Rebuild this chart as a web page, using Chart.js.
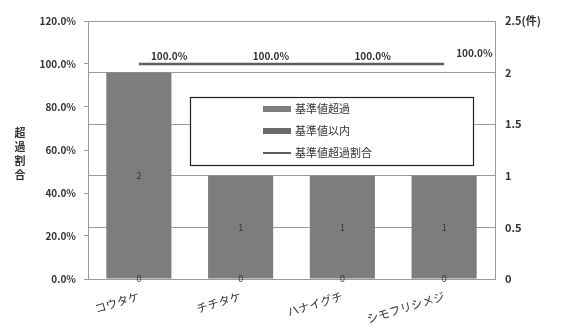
<!DOCTYPE html>
<html>
<head>
<meta charset="utf-8">
<script src="https://cdn.jsdelivr.net/npm/chart.js@4"></script>
<style>
  html, body { margin: 0; padding: 0; background: #fff; }
  #wrap { width: 567px; height: 326px; }
</style>
</head>
<body>
<div id="wrap"><canvas id="grafico" width="567" height="326"></canvas></div>
<script>
// categorias e valores
const categorias = ['コウタケ', 'チチタケ', 'ハナイグチ', 'シモフリシメジ'];
const excedeu = [2, 1, 1, 1];          // 基準値超過 (件)
const dentro = [0, 0, 0, 0];           // 基準値以内 (件)
const taxaExcesso = [1, 1, 1, 1];      // 基準値超過割合
const ticksEsq = [0, 0.2, 0.4, 0.6, 0.8, 1.0, 1.2];
const ticksDir = [0, 0.5, 1, 1.5, 2, 2.5];
const tituloEsq = '超過割合';

const fonte = '"Noto Sans CJK JP", "DejaVu Sans", sans-serif';
const corTexto = '#333333';

// rótulos de valor nas barras e na linha
const rotulos = {
  id: 'rotulos',
  afterDatasetsDraw(chart) {
    const ctx = chart.ctx;
    ctx.save();
    ctx.fillStyle = corTexto;
    ctx.textAlign = 'center';
    ctx.textBaseline = 'middle';
    ctx.font = '9px ' + fonte;
    [0, 1].forEach(i => {
      chart.getDatasetMeta(i).data.forEach((bar, j) => {
        const v = chart.data.datasets[i].data[j];
        const y = (bar.y + bar.base) / 2;
        ctx.fillText(String(v), bar.x, y);
      });
    });
    ctx.font = 'bold 10px ' + fonte;
    ctx.textAlign = 'left';
    ctx.textBaseline = 'bottom';
    chart.getDatasetMeta(2).data.forEach((pt, j) => {
      const v = chart.data.datasets[2].data[j];
      const dy = j === 3 ? 6 : 3;
      ctx.fillText((v * 100).toFixed(1) + '%', pt.x + 12, pt.y - dy);
    });
    ctx.restore();
  }
};

// legenda dentro da área do gráfico, com moldura
const legendaCaixa = {
  id: 'legendaCaixa',
  afterDraw(chart) {
    const ctx = chart.ctx;
    const x0 = 190, y0 = 97, w = 283, h = 68;
    ctx.save();
    ctx.fillStyle = '#ffffff';
    ctx.fillRect(x0, y0, w, h);
    ctx.strokeStyle = '#222222';
    ctx.lineWidth = 1.2;
    ctx.strokeRect(x0 + 0.5, y0 + 0.5, w, h);
    ctx.font = '11px ' + fonte;
    ctx.textBaseline = 'middle';
    ctx.textAlign = 'left';
    const linhas = [109, 131, 153];
    const ordem = [1, 0, 2]; // 超過, 以内, 割合
    ordem.forEach((i, k) => {
      const ds = chart.data.datasets[i];
      const y = linhas[k];
      if (ds.type === 'bar') {
        ctx.fillStyle = ds.backgroundColor;
        ctx.fillRect(263, y - 3, 28, 6);
      } else {
        ctx.fillStyle = ds.borderColor;
        ctx.fillRect(263, y - 1, 28, 2);
      }
      ctx.fillStyle = corTexto;
      ctx.fillText(ds.label, 295, y);
    });
    // título do eixo esquerdo, em coluna
    ctx.font = 'bold 11px ' + fonte;
    ctx.textAlign = 'center';
    [...tituloEsq].forEach((c, k) => {
      ctx.fillText(c, 20, 133 + k * 14);
    });
    ctx.restore();
  }
};

new Chart(document.getElementById('grafico').getContext('2d'), {
  data: {
    labels: categorias,
    datasets: [
      {
        type: 'bar', label: '基準値以内', data: dentro,
        backgroundColor: '#6a6a6a', borderColor: '#6a6a6a',
        yAxisID: 'y', stack: 'a', barPercentage: 0.64, categoryPercentage: 1, order: 2
      },
      {
        type: 'bar', label: '基準値超過', data: excedeu,
        backgroundColor: '#7d7d7d', borderColor: '#7d7d7d',
        yAxisID: 'y', stack: 'a', barPercentage: 0.64, categoryPercentage: 1, order: 2
      },
      {
        type: 'line', label: '基準値超過割合', data: taxaExcesso,
        borderColor: '#5e5e5e', backgroundColor: '#5e5e5e', borderWidth: 2.5,
        pointRadius: 0, yAxisID: 'y1', order: 1
      }
    ]
  },
  options: {
    responsive: false,
    animation: false,
    layout: { padding: { top: 21, left: 0, right: 0, bottom: 0 } },
    plugins: {
      legend: { display: false },
      tooltip: { enabled: false }
    },
    scales: {
      x: {
        stacked: true,
        offset: true,
        grid: { display: false },
        border: { color: '#999999' },
        ticks: {
          color: corTexto, font: { family: fonte, size: 11.5 },
          minRotation: 17, maxRotation: 17, padding: 2
        },
        afterFit: s => { s.height = 326 - 279; }
      },
      y1: {
        position: 'left',
        min: 0, max: 1.2,
        afterBuildTicks: s => { s.ticks = ticksEsq.map(v => ({ value: v })); },
        grid: { drawOnChartArea: false, tickLength: 4, color: '#999999' },
        border: { color: '#999999' },
        ticks: {
          color: corTexto, font: { family: fonte, size: 10, weight: 'bold' },
          padding: 8,
          callback: v => (v * 100).toFixed(1) + '%'
        },
        afterFit: s => { s.width = 88; }
      },
      y: {
        position: 'right',
        stacked: true,
        min: 0, max: 2.5,
        afterBuildTicks: s => { s.ticks = ticksDir.map(v => ({ value: v })); },
        grid: { color: '#9a9a9a', drawTicks: false },
        border: { color: '#999999' },
        ticks: {
          color: corTexto, font: { family: fonte, size: 11, weight: 'bold' },
          padding: 10,
          callback: v => v === 2.5 ? '2.5(件)' : String(v)
        },
        afterFit: s => { s.width = 72; }
      }
    }
  },
  plugins: [rotulos, legendaCaixa]
});
</script>
</body>
</html>
